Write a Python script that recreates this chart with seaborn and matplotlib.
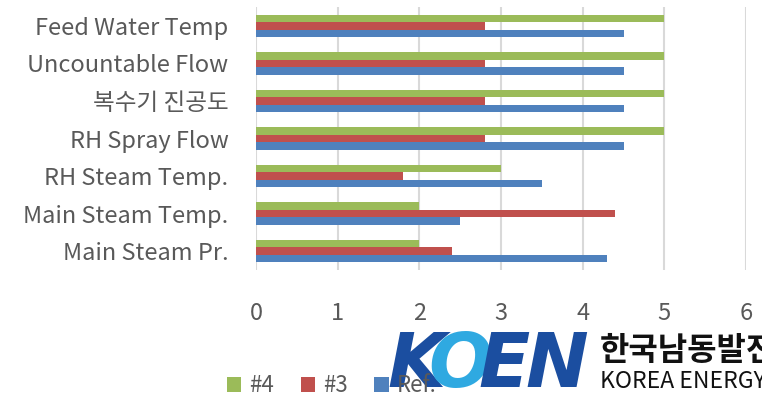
import matplotlib
matplotlib.use("Agg")
import matplotlib.pyplot as plt
from matplotlib.patches import Patch
import seaborn as sns
import pandas as pd

# Performance items (top to bottom) and the three compared series
categories = ["Feed Water Temp", "Uncountable Flow", "복수기 진공도", "RH Spray Flow",
              "RH Steam Temp.", "Main Steam Temp.", "Main Steam Pr."]
unit4 = [5.0, 5.0, 5.0, 5.0, 3.0, 2.0, 2.0]
unit3 = [2.8, 2.8, 2.8, 2.8, 1.8, 4.4, 2.4]
ref = [4.5, 4.5, 4.5, 4.5, 3.5, 2.5, 4.3]
series_names = ["#4", "#3", "Ref."]
x_ticks = [0, 1, 2, 3, 4, 5, 6]

colors = {"#4": "#9BBB59", "#3": "#C0504D", "Ref.": "#4F81BD"}

rows = []
for name, vals in zip(series_names, [unit4, unit3, ref]):
    for cat, v in zip(categories, vals):
        rows.append({"item": cat, "series": name, "value": v})
df = pd.DataFrame(rows)

sns.set_theme(style="white")
plt.rcParams["font.family"] = ["Noto Sans CJK KR", "DejaVu Sans"]
text_gray = "#595959"

fig = plt.figure(figsize=(7.62, 3.93), dpi=100)
ax = fig.add_axes([0.336, 0.313, 0.643, 0.669])

sns.barplot(data=df, y="item", x="value", hue="series", order=categories,
            hue_order=series_names, palette=colors, orient="h", width=0.6,
            linewidth=0, saturation=1, ax=ax, legend=False)

ax.set_xlim(0, 6)
ax.set_xticks(x_ticks)
ax.set_xlabel("")
ax.set_ylabel("")
ax.xaxis.grid(True, color="#D9D9D9", linewidth=1.5)
ax.set_axisbelow(True)
for s in ax.spines.values():
    s.set_visible(False)
ax.tick_params(axis="x", length=0, pad=23, labelsize=17, labelcolor=text_gray)
ax.tick_params(axis="y", length=0, pad=20, labelsize=17, labelcolor=text_gray)

# Legend along the bottom
handles = [Patch(facecolor=colors[n], edgecolor="none") for n in series_names]
fig.legend(handles, series_names, loc="center left", bbox_to_anchor=(0.283, 0.018),
           ncol=3, frameon=False, fontsize=16, labelcolor=text_gray,
           handlelength=0.65, handleheight=0.65, handletextpad=0.35,
           columnspacing=1.2, borderpad=0)

# Company logo in the lower right
logo_font = ["Liberation Sans Narrow", "DejaVu Sans"]
for letter, x, col in [("K", 387, "#1B4EA0"), ("O", 428, "#2FA9E1"),
                       ("E", 478, "#1B4EA0"), ("N", 525, "#1B4EA0")]:
    fig.text(x / 762, 0.015, letter, fontsize=54, fontweight="heavy", style="italic",
             color=col, family=logo_font, va="baseline")
fig.text(600 / 762, 0.084, "한국남동발전", fontsize=23, fontweight="bold",
         color="#111111", va="baseline")
fig.text(600 / 762, 0.013, "KOREA ENERGY", fontsize=16.5, color="#111111",
         va="baseline")

fig.savefig("out.png", dpi=100, facecolor="white")
